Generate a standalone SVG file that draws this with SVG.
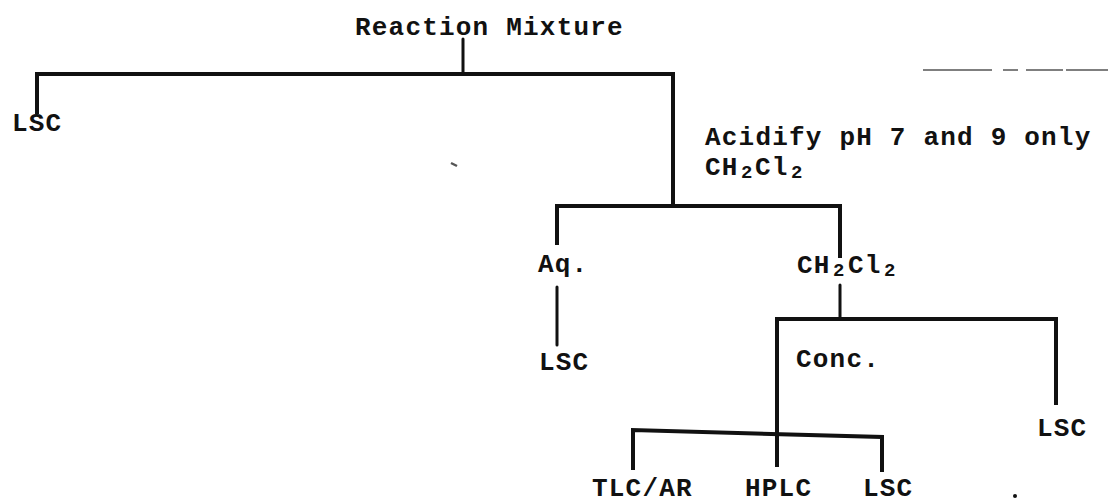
<svg xmlns="http://www.w3.org/2000/svg" width="1108" height="504" viewBox="0 0 1108 504">
  <style>
    .t { font-family: "Liberation Mono", "Courier New", monospace; font-size: 26px; letter-spacing: 1.2px; font-weight: bold; fill: #111; }
    .sub { font-size: 19px; }
    .ln { stroke: #111; stroke-width: 4; fill: none; stroke-linecap: square; stroke-linejoin: miter; }
    .st { stroke: #111; stroke-width: 3; fill: none; stroke-linecap: round; }
    .noise { stroke: #555; fill: none; }
  </style>
  <rect width="1108" height="504" fill="#fff"/>

  <g id="connectors">
    <line class="st" x1="463" y1="39" x2="463" y2="74"/>
    <polyline class="ln" points="37,112 37,74 673,74 673,206"/>
    <polyline class="ln" points="557,243 557,206 840,206 840,256"/>
    <line class="st" x1="557" y1="287" x2="557" y2="345"/>
    <line class="st" x1="840" y1="285" x2="840" y2="319"/>
    <polyline class="ln" points="777,465 777,319 1056,319 1056,403"/>
    <polyline class="ln" points="633,468 633,430 882,437 882,470"/>
  </g>

  <g id="node-reaction-mixture"><text class="t" x="355" y="35">Reaction Mixture</text></g>
  <g id="node-lsc-1"><text class="t" x="12" y="131">LSC</text></g>
  <g id="node-acidify">
    <text class="t" x="705" y="145">Acidify pH 7 and 9 only</text>
    <text class="t" y="175"><tspan x="705">CH</tspan><tspan class="sub" x="741" dy="3">2</tspan><tspan x="755" dy="-3">Cl</tspan><tspan class="sub" x="791" dy="3">2</tspan></text>
  </g>
  <g id="node-aq"><text class="t" x="538" y="272">Aq.</text></g>
  <g id="node-lsc-2"><text class="t" x="539" y="370">LSC</text></g>
  <g id="node-ch2cl2">
    <text class="t" y="273"><tspan x="797">CH</tspan><tspan class="sub" x="833" dy="3">2</tspan><tspan x="848" dy="-3">Cl</tspan><tspan class="sub" x="884" dy="3">2</tspan></text>
  </g>
  <g id="node-conc"><text class="t" x="796" y="367">Conc.</text></g>
  <g id="node-lsc-3"><text class="t" x="1037" y="436">LSC</text></g>
  <g id="node-tlc-ar"><text class="t" x="592" y="496">TLC/AR</text></g>
  <g id="node-hplc"><text class="t" x="745" y="496">HPLC</text></g>
  <g id="node-lsc-4"><text class="t" x="863" y="496">LSC</text></g>

  <g id="marks">
    <circle cx="1015" cy="496" r="2" fill="#111"/>
    <line class="noise" x1="451" y1="163" x2="457" y2="166" stroke-width="2.5"/>
    <path class="noise" d="M923,70 H992 M1003,70 H1018 M1026,70 H1063 M1066,70 H1108" stroke-width="1.5"/>
  </g>
</svg>
